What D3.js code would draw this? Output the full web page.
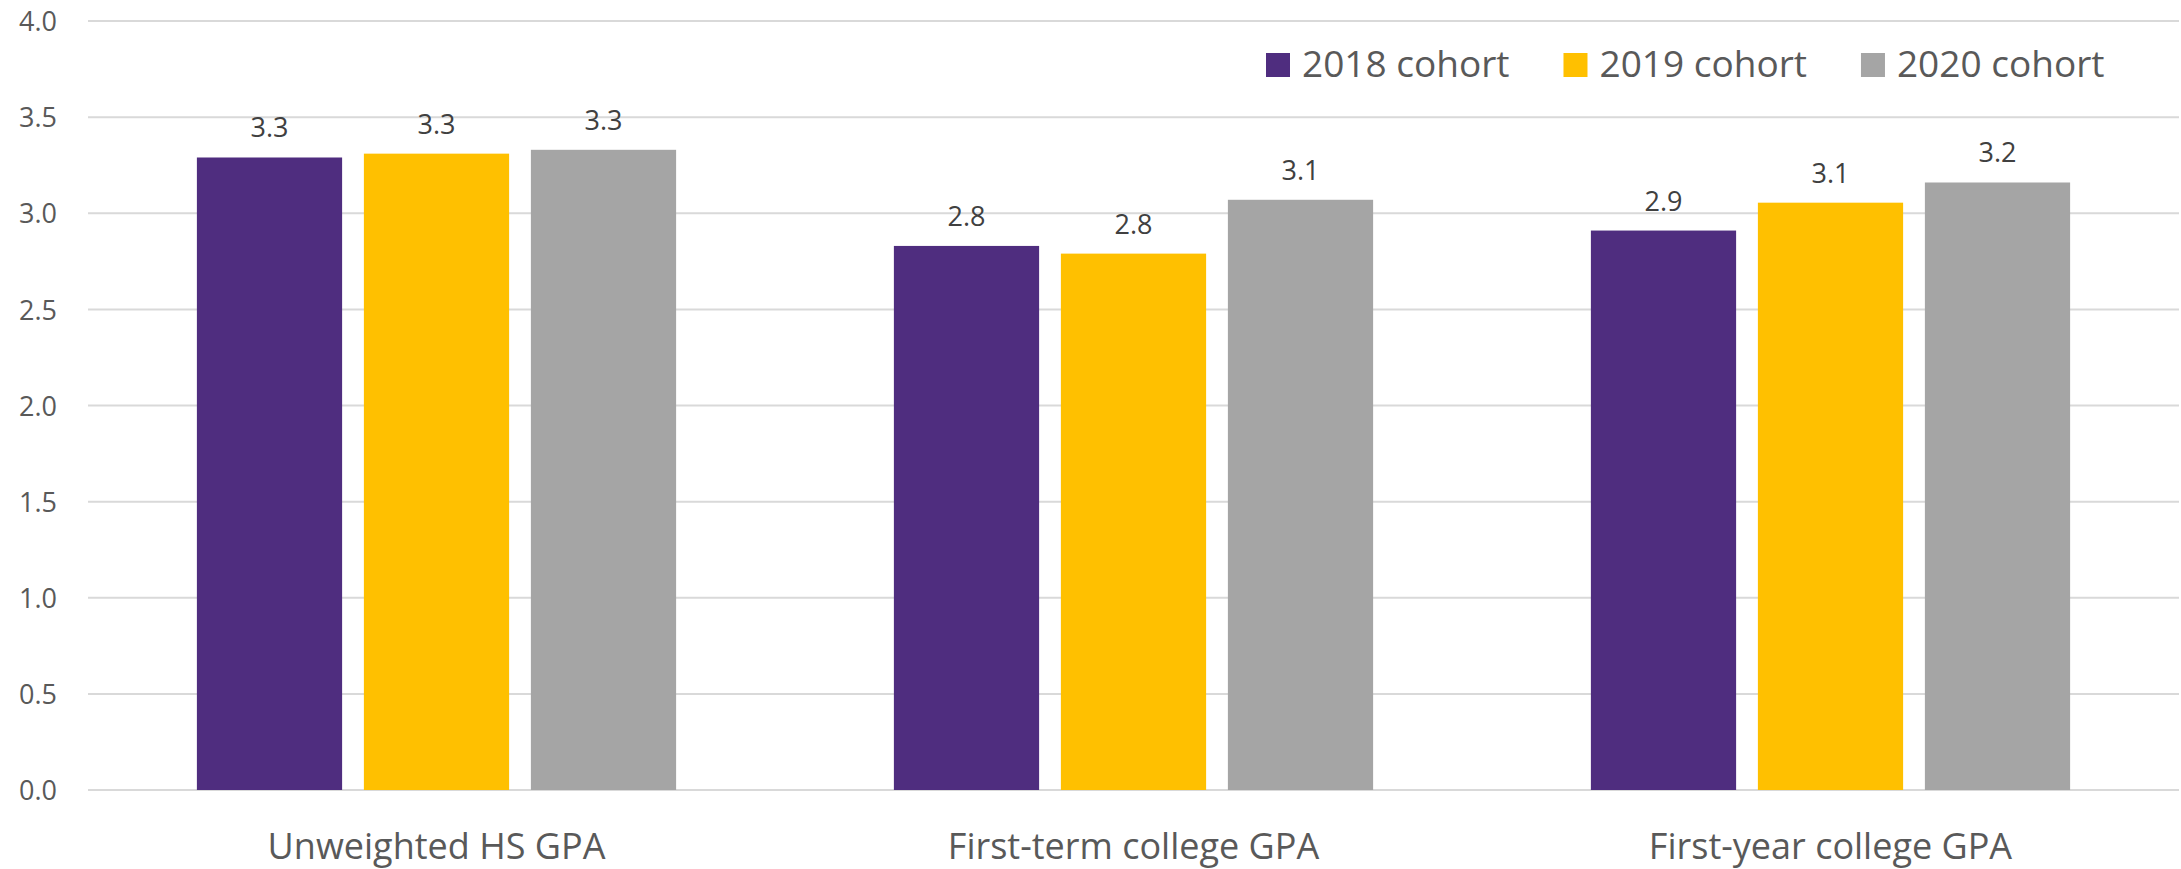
<!DOCTYPE html>
<html>
<head>
<meta charset="utf-8">
<script src="https://cdn.jsdelivr.net/npm/d3@7"></script>
<style>
  html, body { margin: 0; padding: 0; background: #ffffff; }
  svg { display: block; font-family: "Open Sans", "Noto Sans", sans-serif; }
</style>
</head>
<body>
<svg id="chart" width="2181" height="869"></svg>
<script>
// GPA by cohort
const categories = ["Unweighted HS GPA", "First-term college GPA", "First-year college GPA"];
const seriesNames = ["2018 cohort", "2019 cohort", "2020 cohort"];
const cohort2018 = [3.29, 2.83, 2.91];
const cohort2019 = [3.31, 2.79, 3.055];
const cohort2020 = [3.33, 3.07, 3.16];
const yTicks = [0, 0.5, 1.0, 1.5, 2.0, 2.5, 3.0, 3.5, 4.0];
const colors = ["#4F2D7F", "#FFC000", "#A5A5A5"];

const seriesValues = [cohort2018, cohort2019, cohort2020];

const svg = d3.select("#chart");
const plot = { left: 88, right: 2179, top: 21, bottom: 790 };

const y = d3.scaleLinear().domain([0, 4]).range([plot.bottom, plot.top]);
const x0 = d3.scaleBand().domain(categories).range([plot.left, plot.right]).padding(0);
const x1 = d3.scaleBand().domain(seriesNames).range([0, x0.bandwidth()])
  .paddingInner(0.1304).paddingOuter(0.652);

// horizontal gridlines
svg.append("g").selectAll("line").data(yTicks).join("line")
  .attr("x1", plot.left).attr("x2", plot.right)
  .attr("y1", d => y(d)).attr("y2", d => y(d))
  .attr("stroke", "#D9D9D9").attr("stroke-width", 2);

// y-axis tick labels
const yAxis = d3.axisLeft(y).tickValues(yTicks).tickFormat(d3.format(".1f")).tickSize(0).tickPadding(0);
const yg = svg.append("g").attr("transform", "translate(57,0)").call(yAxis);
yg.select(".domain").remove();
yg.selectAll("text")
  .attr("font-family", "Open Sans")
  .attr("font-size", 27)
  .attr("fill", "#595959")
  .attr("dy", "0.36em");

// bars
const rows = categories.map((c, i) => ({
  category: c,
  values: seriesNames.map((s, j) => ({ series: s, value: seriesValues[j][i], color: colors[j] }))
}));

const groups = svg.append("g").selectAll("g").data(rows).join("g")
  .attr("transform", d => `translate(${x0(d.category)},0)`);

groups.selectAll("rect").data(d => d.values).join("rect")
  .attr("x", d => x1(d.series))
  .attr("width", x1.bandwidth())
  .attr("y", d => y(d.value))
  .attr("height", d => y(0) - y(d.value))
  .attr("fill", d => d.color);

// value labels
groups.selectAll("text").data(d => d.values).join("text")
  .attr("x", d => x1(d.series) + x1.bandwidth() / 2)
  .attr("y", d => y(d.value) - 20)
  .attr("text-anchor", "middle")
  .attr("font-size", 27)
  .attr("fill", "#404040")
  .text(d => d.value.toFixed(1));

// category axis labels
const xAxis = d3.axisBottom(x0).tickSize(0).tickPadding(0);
const xg = svg.append("g").attr("transform", `translate(0,${plot.bottom})`).call(xAxis);
xg.select(".domain").remove();
xg.selectAll("text")
  .attr("font-family", "Open Sans")
  .attr("font-size", 36)
  .attr("fill", "#595959")
  .attr("dy", null)
  .attr("y", 69);

// legend
const legend = svg.append("g");
let lx = 1266;
seriesNames.forEach((name, i) => {
  const item = legend.append("g").attr("transform", `translate(${lx},0)`);
  item.append("rect").attr("x", 0).attr("y", 53).attr("width", 24).attr("height", 24).attr("fill", colors[i]);
  const t = item.append("text").attr("x", 36).attr("y", 77)
    .attr("font-size", 37).attr("fill", "#595959").text(name);
  lx += 36 + t.node().getComputedTextLength() + 54;
});
</script>
</body>
</html>
